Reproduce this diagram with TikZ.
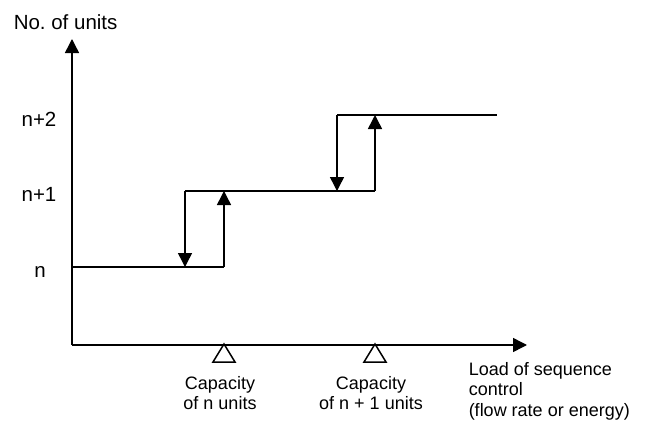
\documentclass[tikz,border=0pt]{standalone}
\usepackage{fontspec}
\setmainfont{Liberation Sans}
\usetikzlibrary{arrows.meta}
\frenchspacing
\begin{document}
\begin{tikzpicture}[x=1pt,y=-1pt,
  line width=1.5pt,
  >={Triangle[width=14pt,length=14pt]},
  lbl/.style={font=\fontsize{18}{20.5}\selectfont, inner sep=0pt},
  ylbl/.style={font=\fontsize{20.5}{24}\selectfont, inner sep=0pt}]
\useasboundingbox (0,0) rectangle (646,423);
% axes
\coordinate (O) at (72,345);
\coordinate (Ytip) at (72,39);
\coordinate (Xtip) at (527,345);
\draw[->] (O) -- (Ytip);
\draw[->] (O) -- (Xtip);
% staircase corners
\coordinate (a0) at (72,267);
\coordinate (a1) at (224,267);
\coordinate (a2) at (224,191);
\coordinate (b0) at (185,191);
\coordinate (b1) at (185,267);
\coordinate (c0) at (375,191);
\coordinate (c1) at (375,115);
\coordinate (d0) at (337,115);
\coordinate (d1) at (337,191);
\coordinate (e1) at (497,115);
\draw (a0) -- (a1);
\draw[->] (a1) -- (a2);
\draw[->] (b0) -- (b1);
\draw (b0) -- (c0);
\draw[->] (c0) -- (c1);
\draw[->] (d0) -- (d1);
\draw (d0) -- (e1);
% triangle markers
\coordinate (t1) at (224,344);
\coordinate (t2) at (375,344);
\draw (t1) -- ++(-11,18) -- ++(22,0) -- cycle;
\draw (t2) -- ++(-11,18) -- ++(22,0) -- cycle;
% labels
\node[ylbl, anchor=base west] (ylab) at (13,30) {No.\ of units};
\node[ylbl, anchor=base] (ln2) at (39,126) {n+2};
\node[ylbl, anchor=base] (ln1) at (39,201) {n+1};
\node[ylbl, anchor=base] (ln0) at (40,277) {n};
\node[lbl, align=center] (cap1) at (220,393) {Capacity\\of n units};
\node[lbl, align=center] (cap2) at (371,393) {Capacity\\of n + 1 units};
\node[lbl, align=left, anchor=west] (xlab) at (468,391) {Load of sequence\\control\\(flow rate or energy)};
\end{tikzpicture}
\end{document}
